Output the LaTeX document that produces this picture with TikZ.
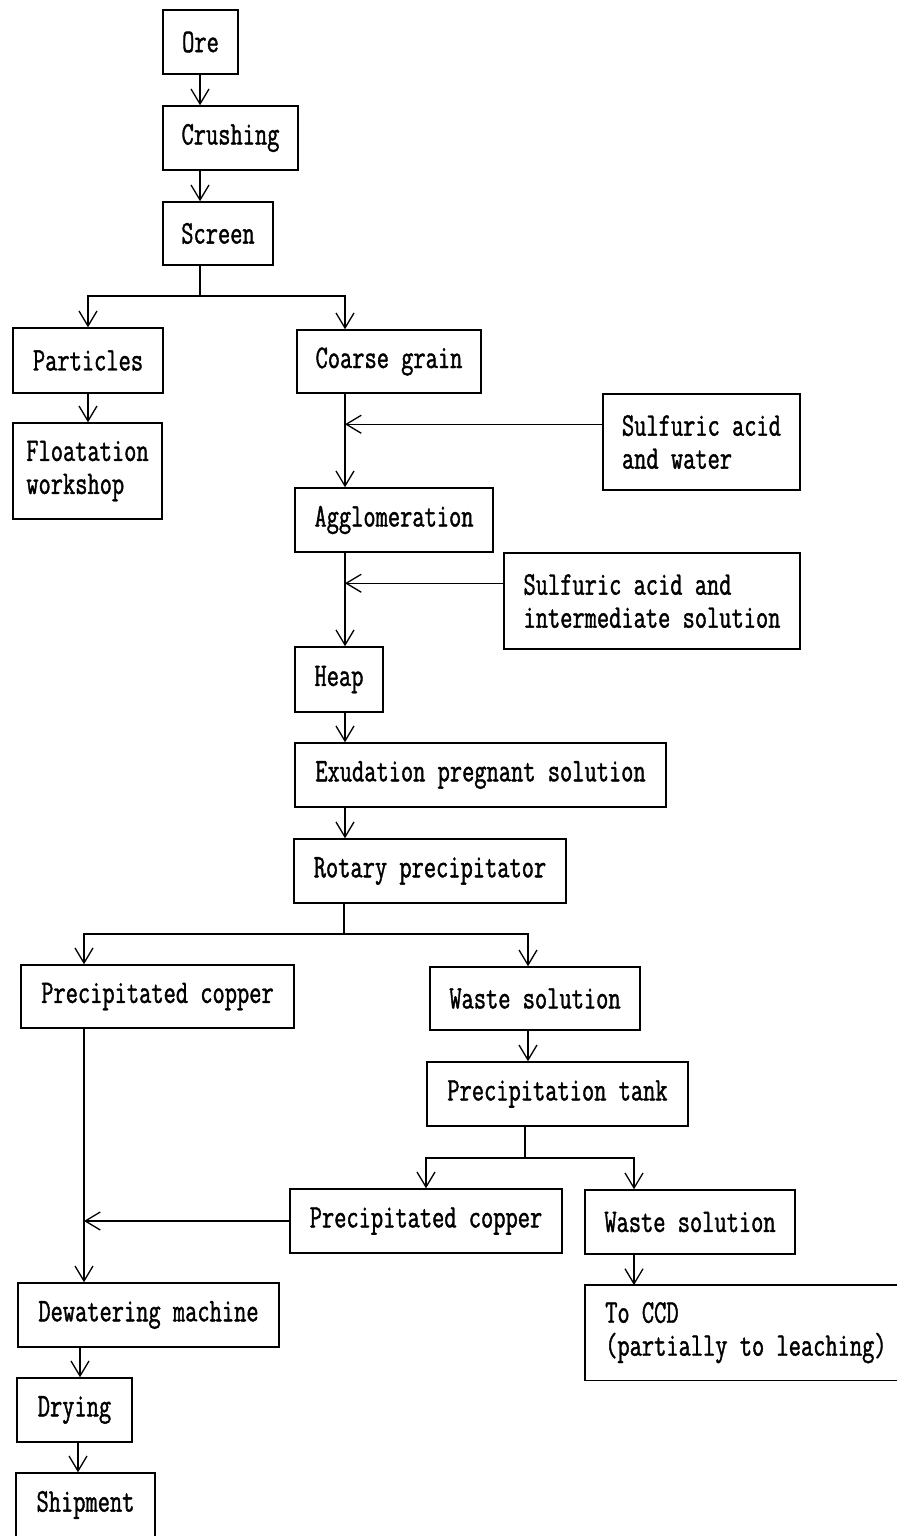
\documentclass[tikz,border=0pt]{standalone}
\usepackage{fontspec}
\newfontfamily\flowfont{Latin Modern Mono}[FakeStretch=0.72,FakeBold=1.2]
\usetikzlibrary{arrows.meta}
\begin{document}
\begin{tikzpicture}[x=1pt,y=-1pt,
  font=\flowfont\fontsize{33}{33}\selectfont,
  box/.style={draw, line width=1.5pt, inner sep=0pt, align=left},
  link/.style={line width=1.4pt},
  arr/.style={link, -{Straight Barb[length=15pt,width=18pt,line width=1.3pt]}}]
\useasboundingbox (0,0) rectangle (897,1536);
\clip (0,0) rectangle (897,1536);
\fill[white] (0,0) rectangle (897,1536);

% process boxes (centre, width, height)
\node[box, minimum width=75pt,  minimum height=64pt] (ore)    at (200.5,42)   {Ore};
\node[box, minimum width=135pt, minimum height=64pt] (crush)  at (230.5,138)  {Crushing};
\node[box, minimum width=110pt, minimum height=63pt] (screen) at (218,233.5)  {Screen};
\node[box, minimum width=150pt, minimum height=65pt] (part)   at (88,360.5)   {Particles};
\node[box, minimum width=184pt, minimum height=63pt] (coarse) at (389,361.5)  {Coarse grain};
\node[box, minimum width=149pt, minimum height=96pt] (flot)   at (87.5,471)   {Floatation\\workshop};
\node[box, minimum width=197pt, minimum height=96pt] (sw)     at (701.5,442)  {Sulfuric acid\\and water};
\node[box, minimum width=198pt, minimum height=64pt] (agg)    at (394,520)    {Agglomeration};
\node[box, minimum width=296pt, minimum height=96pt] (sis)    at (652,601)    {Sulfuric acid and\\intermediate solution};
\node[box, minimum width=88pt,  minimum height=65pt] (heap)   at (339,679.5)  {Heap};
\node[box, minimum width=371pt, minimum height=64pt] (exud)   at (480.5,775)  {Exudation pregnant solution};
\node[box, minimum width=272pt, minimum height=64pt] (rot)    at (430,871)    {Rotary precipitator};
\node[box, minimum width=273pt, minimum height=63pt] (pc1)    at (157.5,996.5){Precipitated copper};
\node[box, minimum width=210pt, minimum height=63pt] (ws1)    at (535,998.5)  {Waste solution};
\node[box, minimum width=261pt, minimum height=64pt] (tank)   at (557.5,1094) {Precipitation tank};
\node[box, minimum width=272pt, minimum height=64pt] (pc2)    at (426,1221)   {Precipitated copper};
\node[box, minimum width=210pt, minimum height=64pt] (ws2)    at (690,1222)   {Waste solution};
\node[box, minimum width=261pt, minimum height=64pt] (dew)    at (148.5,1315) {Dewatering machine};
\node[box, minimum width=115pt, minimum height=64pt] (dry)    at (74.5,1410)  {Drying};
\node[box, minimum width=139pt, minimum height=64pt] (ship)   at (85.5,1505)  {Shipment};

% last box runs off the right edge of the sheet
\node[anchor=north west, inner sep=0pt, minimum height=95pt, align=left]
     (ccd) at (605,1285) {To CCD\\(partially to leaching)};
\coordinate (edge) at (897,0);
\draw[line width=1.5pt] (ccd.north -| edge) -- ([xshift=-20pt]ccd.north west)
  -- ([xshift=-20pt]ccd.south west) -- (ccd.south -| edge);

% columns and junctions of the flow lines
\coordinate (cA) at (200,0);
\coordinate (cB) at (345,0);
\coordinate (cP) at (88,0);
\coordinate (cL) at (84,0);
\coordinate (cW) at (528,0);
\coordinate (cQ) at (426,0);
\coordinate (cR) at (634,0);
\coordinate (cD) at (80,0);
\coordinate (cS) at (78,0);
\coordinate (sj) at (200,296);
\coordinate (rj) at (344,934);
\coordinate (tj) at (525,1158);
\coordinate (swin)  at ([yshift=-31pt]sw.north west);
\coordinate (sisin) at ([yshift=-31pt]sis.north west);

% main line
\draw[arr] (ore.south -| cA) -- (crush.north -| cA);
\draw[arr] (crush.south -| cA) -- (screen.north -| cA);
\draw[link] (screen.south -| cA) -- (sj);
\draw[arr] (sj) -| (part.north -| cP);
\draw[arr] (sj) -| (coarse.north -| cB);
\draw[arr] (part.south -| cP) -- (flot.north -| cP);
\draw[arr] (coarse.south -| cB) -- (agg.north -| cB);
\draw[arr] (swin) -- (swin -| cB);
\draw[arr] (agg.south -| cB) -- (heap.north -| cB);
\draw[arr] (sisin) -- (sisin -| cB);
\draw[arr] (heap.south -| cB) -- (exud.north -| cB);
\draw[arr] (exud.south -| cB) -- (rot.north -| cB);

% precipitation branches
\draw[link] (rot.south -| rj) -- (rj);
\draw[arr] (rj) -| (pc1.north -| cL);
\draw[arr] (rj) -| (ws1.north -| cW);
\draw[arr] (ws1.south -| cW) -- (tank.north -| cW);
\draw[link] (tank.south -| tj) -- (tj);
\draw[arr] (tj) -| (pc2.north -| cQ);
\draw[arr] (tj) -| (ws2.north -| cR);
\draw[arr] (ws2.south -| cR) -- (ccd.north -| cR);
\draw[arr] (pc1.south -| cL) -- (dew.north -| cL);
\draw[arr] (pc2.west) -- (pc2.west -| cL);
\draw[arr] (dew.south -| cD) -- (dry.north -| cD);
\draw[arr] (dry.south -| cS) -- (ship.north -| cS);
\end{tikzpicture}
\end{document}
